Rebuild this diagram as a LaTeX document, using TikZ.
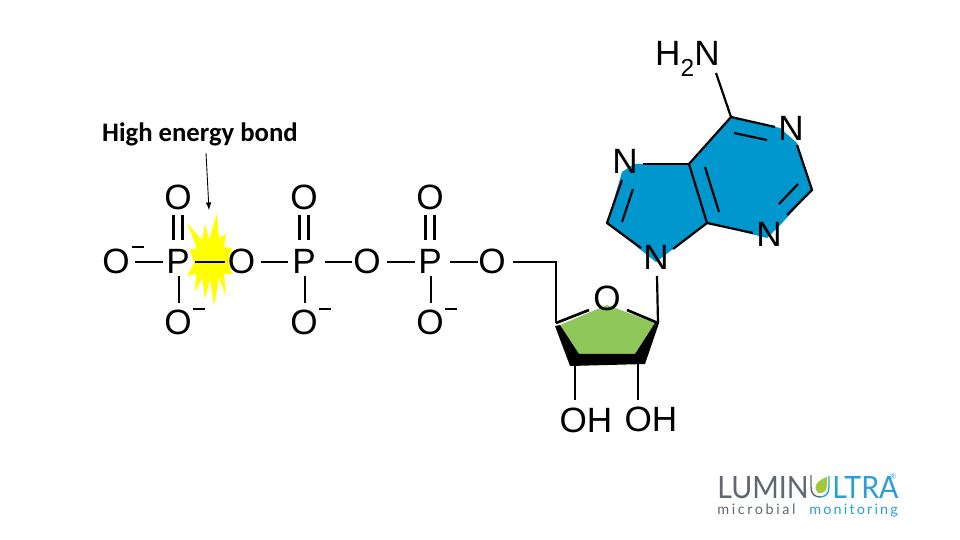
\documentclass[tikz,border=0pt]{standalone}
\usepackage{fontspec}
\setmainfont{Liberation Sans}
\newfontfamily\labelfont{Carlito}
\newfontfamily\logofont[FakeStretch=0.93]{Lato}
\newfontfamily\logosmall{Lato}
\usepackage{tikz}
\definecolor{ringblue}{HTML}{0097CE}
\definecolor{ringgreen}{HTML}{8FC75B}
\definecolor{burst}{HTML}{FFFF00}
\definecolor{logogrey}{HTML}{5F6871}
\definecolor{logoblue}{HTML}{2A9FD6}
\definecolor{logogreen}{HTML}{A3C93A}
\tikzset{>=latex}
\tikzset{
  atom/.style={font=\fontsize{20}{22}\selectfont, inner sep=0pt},
  bond/.style={line width=1.25pt, black},
  charge/.style={line width=1pt, black},
  logobig/.style={font=\logofont\fontsize{17.5}{20}\selectfont, inner sep=0pt, anchor=base west}
}
\begin{document}
\begin{tikzpicture}[x=0.02cm, y=-0.02cm]
  \useasboundingbox (0,0) rectangle (960,540);
  %
  % coloured rings first, atoms on top
  \fill [ringblue] (731,117) -- (780,128) -- (797,143) -- (812,190) -- (783,222)
    -- (767,238) -- (707,223) -- (656,262) -- (607,223) -- (622,172) -- (634,164)
    -- (689,164) -- cycle;
  \fill [burst] (217,213) -- (219,238) -- (226,234) -- (224,247) -- (232,248)
    -- (229,258) -- (230,270) -- (233,274) -- (224,274) -- (226,296) -- (219,278)
    -- (214,306) -- (210,279) -- (205,299) -- (202,278) -- (195,292) -- (196,274)
    -- (187,276) -- (194,263) -- (190,250) -- (197,248) -- (187,223) -- (202,240)
    -- (205,224) -- (209,240) -- cycle;
  \fill [ringgreen] (560,325) -- (607,305) -- (655,323) -- (635,354) -- (579,354) -- cycle;
  \fill [black] (555,326) -- (560,325) -- (579,354) -- (635,354) -- (655,323) -- (659,323)
    -- (645,364) -- (570,366) -- cycle;
  %
  % phosphate chain
  \foreach \px/\nm in {178/a,304/b,430/c} {
    \node [atom] (P\nm) at (\px,261) {P};
    \node [atom] (T\nm) at (\px,197) {O};
    \node [atom] (B\nm) at (\px,322) {O};
    \draw [bond] (\px-4.5,215) -- (\px-4.5,240);
    \draw [bond] (\px+4.5,215) -- (\px+4.5,240);
    \draw [bond] (\px+1,276) -- (\px+1,303);
    \draw [charge] (\px+15,309) -- (\px+27,309);
  }
  \node [atom] (Oa) at (116,261) {O};
  \node [atom] (Ob) at (241.5,261) {O};
  \node [atom] (Oc) at (367,261) {O};
  \node [atom] (Od) at (492,261) {O};
  \draw [charge] (132,247) -- (144,247);
  \draw [bond] (135,262) -- (163,262);
  \draw [bond] (195,262) -- (225,262);
  \draw [bond] (261,262) -- (288,262);
  \draw [bond] (325,262) -- (352,262);
  \draw [bond] (387,262) -- (415,262);
  \draw [bond] (450,262) -- (478,262);
  %
  % sugar
  \coordinate (Ca) at (556,323);
  \coordinate (Cb) at (658,323);
  \coordinate (Oe) at (513,262);
  \node [atom] (Or) at (607,298) {O};
  \node [atom] (OHa) at (586,420) {OH};
  \node [atom] (OHb) at (651,419) {OH};
  \draw [bond] (Oe) -- (556,262) -- (Ca);
  \draw [bond, line width=1.5pt] (Ca) -- (589,310);
  \draw [bond, line width=1.5pt] (627,310) -- (Cb);
  \draw [bond] (575,365) -- (575,400);
  \draw [bond] (638,364) -- (638,400);
  %
  % base
  \node [atom] (Nn) at (656,257) {N};
  \node [atom] (Na) at (791,128) {N};
  \node [atom] (Nb) at (769,234) {N};
  \node [atom] (Nc) at (625,161) {N};
  \node [atom, anchor=east] (Nh) at (720,59) {H\raisebox{-0.3em}{\fontsize{14}{15}\selectfont 2}N};
  \coordinate (Cf) at (731,117);
  \coordinate (Cg) at (812,190);
  \coordinate (Ch) at (707,223);
  \coordinate (Ci) at (689,164);
  \coordinate (Cj) at (607,223);
  \draw [bond] (657,276) -- (Cb);
  \draw [bond] (716,73) -- (Cf);
  \draw [bond] (Cf) -- (775,127);
  \draw [bond] (734,133) -- (767,140);
  \draw [bond] (797,145) -- (Cg) -- (787,215);
  \draw [bond] (798,184) -- (779,204);
  \draw [bond] (753,233) -- (Ch) -- (Ci) -- (Cf);
  \draw [bond] (705,167) -- (719,212);
  \draw [bond] (Ci) -- (643,164);
  \draw [bond] (622,180) -- (Cj) -- (641,248);
  \draw [bond] (633,189) -- (622,222);
  \draw [bond] (673,249) -- (Ch);
  %
  % label
  \node [font=\labelfont\bfseries\fontsize{15.2}{18}\selectfont, inner sep=0pt] (lbl) at (200,134) {High energy bond};
  \coordinate (tip) at (209,210);
  \draw [->, line width=0.5pt] (206,153) -- (tip);
  %
  % logo
  \node [logobig, text=logogrey] (lumin) at (717,498) {LUMIN};
  \node [logobig, text=logoblue] (ltra) at (832,498) {LTRA};
  \fill [logogreen] (818,493) .. controls (812,486) and (818,480) .. (827,477)
    -- (827,486) .. controls (827,491) and (823,494) .. (818,493) -- cycle;
  \draw [logogrey, line width=0.8pt] (811,475) -- (811,487) .. controls (811,494) and (815,497) .. (820,497);
  \draw [logoblue, line width=0.8pt] (820,497) .. controls (825,497) and (829,494) .. (829,487) -- (829,476);
  \node [font=\logosmall\fontsize{4.5}{5}\selectfont, text=logoblue, inner sep=0pt] (reg) at (893,477) {®};
  \node [font=\logosmall\fontsize{8.2}{10}\selectfont\addfontfeature{LetterSpace=18}, text=logogrey, inner sep=0pt, anchor=base west] (micro) at (717,514) {microbial};
  \node [font=\logosmall\fontsize{8.2}{10}\selectfont\addfontfeature{LetterSpace=15}, text=logoblue, inner sep=0pt, anchor=base west] (moni) at (809,514) {monitoring};
\end{tikzpicture}
\end{document}
